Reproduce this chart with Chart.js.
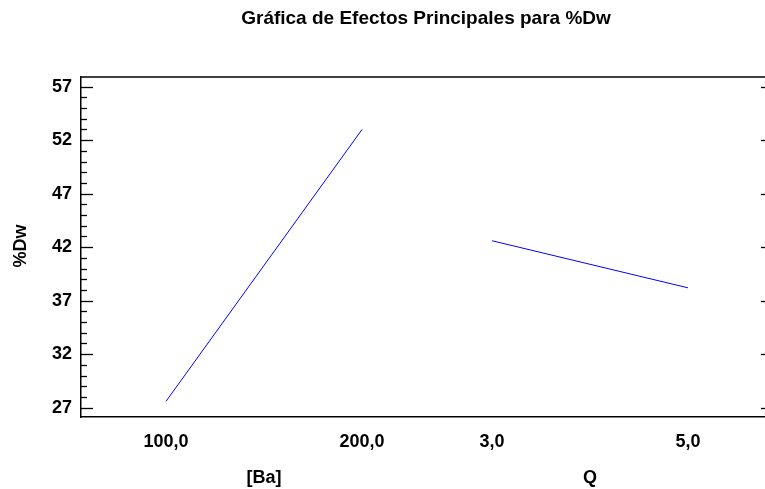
<!DOCTYPE html>
<html>
<head>
<meta charset="utf-8">
<script src="https://cdn.jsdelivr.net/npm/chart.js@4"></script>
<style>
  html, body { margin: 0; padding: 0; background: #fff; }
  #wrap { width: 765px; height: 489px; }
</style>
</head>
<body>
<div id="wrap"><canvas id="canvas" width="765" height="489"></canvas></div>
<script>
// data
var factors = ['[Ba]', 'Q'];
var levelLabels = [['100,0', '200,0'], ['3,0', '5,0']];
var lowMeans = [27.6, 42.6];
var highMeans = [53.0, 38.2];
var yTicks = [27, 32, 37, 42, 47, 52, 57];

// layout of the factor slots along x (1 unit = low->high distance)
var gap = 0.663;
function slotX(f, lvl) { return 1 + f * (1 + gap) + lvl; }

var FONT = '"Liberation Sans", Arial, sans-serif';

var datasets = factors.map(function(name, f) {
  return {
    label: name,
    data: [{x: slotX(f, 0), y: lowMeans[f]}, {x: slotX(f, 1), y: highMeans[f]}],
    borderColor: 'rgb(0,0,255)',
    borderWidth: 1,
    pointRadius: 0,
    fill: false,
    tension: 0
  };
});

var xTickVals = [];
var xTickText = {};
factors.forEach(function(name, f) {
  [0, 1].forEach(function(l) {
    var v = slotX(f, l);
    xTickVals.push(v);
    xTickText[v.toFixed(3)] = levelLabels[f][l];
  });
});

var decor = {
  id: 'decor',
  afterDraw: function(chart) {
    var ctx = chart.ctx, a = chart.chartArea;
    var ys = chart.scales.y, xs = chart.scales.x;
    ctx.save();
    ctx.strokeStyle = '#000';
    // top border
    ctx.lineWidth = 1.5;
    ctx.beginPath();
    ctx.moveTo(a.left, a.top);
    ctx.lineTo(a.right, a.top);
    ctx.stroke();
    // y ticks, left (major + minor) and right (major)
    ctx.lineWidth = 1.3;
    for (var v = yTicks[0]; v <= yTicks[yTicks.length - 1]; v++) {
      var py = Math.round(ys.getPixelForValue(v)) + 0.5;
      var major = yTicks.indexOf(v) >= 0;
      ctx.beginPath();
      ctx.moveTo(a.left, py);
      ctx.lineTo(a.left + (major ? 12 : 6), py);
      ctx.stroke();
      if (major) {
        ctx.beginPath();
        ctx.moveTo(a.right - 4, py);
        ctx.lineTo(a.right, py);
        ctx.stroke();
      }
    }
    // title
    ctx.fillStyle = '#000';
    ctx.textAlign = 'center';
    ctx.textBaseline = 'middle';
    ctx.font = 'bold 19px ' + FONT;
    ctx.fillText('Gráfica de Efectos Principales para %Dw', 426, 19);
    // factor names
    ctx.font = 'bold 18px ' + FONT;
    factors.forEach(function(name, f) {
      var cx = (xs.getPixelForValue(slotX(f, 0)) + xs.getPixelForValue(slotX(f, 1))) / 2;
      ctx.fillText(name, cx, 478);
    });
    // y axis title
    ctx.translate(21, 246);
    ctx.rotate(-Math.PI / 2);
    ctx.fillText('%Dw', 0, 0);
    ctx.restore();
  }
};

window.onload = function() {
  var ctx = document.getElementById('canvas').getContext('2d');
  window.myChart = new Chart(ctx, {
    type: 'line',
    data: { datasets: datasets },
    plugins: [decor],
    options: {
      responsive: false,
      animation: false,
      layout: { padding: { top: 77, right: 0, bottom: 0, left: 0 } },
      plugins: {
        legend: { display: false },
        tooltip: { enabled: false }
      },
      scales: {
        x: {
          type: 'linear',
          min: 0.566,
          max: 4.056,
          afterBuildTicks: function(axis) {
            axis.ticks = xTickVals.map(function(v) { return {value: v}; });
          },
          afterFit: function(axis) { axis.height = 72; },
          grid: { display: false, drawTicks: false },
          border: { display: true, color: '#000', width: 1.5 },
          ticks: {
            color: '#000',
            padding: 14,
            maxRotation: 0,
            autoSkip: false,
            font: { family: FONT, size: 18, weight: 'bold' },
            callback: function(v) { return xTickText[Number(v).toFixed(3)]; }
          }
        },
        y: {
          min: 26.13,
          max: 57.9,
          afterBuildTicks: function(axis) {
            axis.ticks = yTicks.map(function(v) { return {value: v}; });
          },
          afterFit: function(axis) { axis.width = 81; },
          grid: { display: false, drawTicks: false },
          border: { display: true, color: '#000', width: 1.5 },
          ticks: {
            color: '#000',
            padding: 9,
            font: { family: FONT, size: 18, weight: 'bold' }
          }
        }
      }
    }
  });
};
</script>
</body>
</html>
